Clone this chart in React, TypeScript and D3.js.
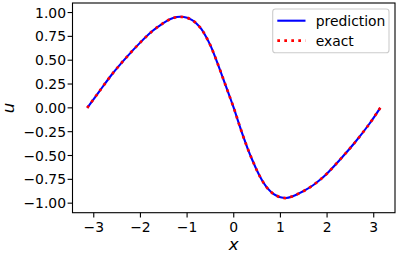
import * as d3 from "d3";

// values
const xs = [
  -3.14, -2.9, -2.6, -2.3, -2.0, -1.75, -1.6, -1.45, -1.3, -1.15, -1.0, -0.9,
  -0.8, -0.7, -0.6, -0.5, -0.4, -0.3, -0.2, -0.1, 0.0, 0.1, 0.2, 0.3, 0.4, 0.5,
  0.6, 0.7, 0.8, 0.9, 1.0, 1.12, 1.25, 1.4, 1.55, 1.7, 1.85, 2.0, 2.3, 2.6, 2.9,
  3.14,
];
const uExact = [
  0, 0.16, 0.358, 0.53, 0.687, 0.803, 0.858, 0.908, 0.942, 0.955, 0.945, 0.922,
  0.885, 0.83, 0.752, 0.655, 0.535, 0.405, 0.27, 0.135, 0, -0.15, -0.295,
  -0.43, -0.55, -0.66, -0.755, -0.83, -0.882, -0.917, -0.938, -0.946, -0.93,
  -0.897, -0.858, -0.812, -0.755, -0.688, -0.531, -0.361, -0.172, 0,
];
const uPred = uExact.slice();

const xTicks = [-3, -2, -1, 0, 1, 2, 3];
const yTicks = [-1, -0.75, -0.5, -0.25, 0, 0.25, 0.5, 0.75, 1];

const legendItems = ["prediction", "exact"];

const W = 399;
const H = 254;
const left = 72.5;
const right = 395;
const top = 3;
const bottom = 212.7;

const font = "DejaVu Sans, sans-serif";
const fmtMinus = (s: string) => s.replace("-", "\u2212");

export default function App() {
  const x = d3
    .scaleLinear()
    .domain([-Math.PI * 1.1, Math.PI * 1.1])
    .range([left, right]);
  const y = d3.scaleLinear().domain([-1.1, 1.1]).range([bottom, top]);

  const line = d3
    .line<number>()
    .x((_, i) => x(xs[i]))
    .y((d) => y(d))
    .curve(d3.curveCatmullRom.alpha(0.5));

  return (
    <svg
      width={W}
      height={H}
      style={{ position: "absolute", left: 0, top: 0, background: "#fff" }}
    >
      <path d={line(uPred) ?? ""} fill="none" stroke="#0000ff" strokeWidth={2.1} />
      <path
        d={line(uExact) ?? ""}
        fill="none"
        stroke="#ff0000"
        strokeWidth={2.7}
        strokeDasharray="2.7 4.3"
      />

      {/* frame */}
      <rect
        x={left}
        y={top}
        width={right - left}
        height={bottom - top}
        fill="none"
        stroke="#000"
        strokeWidth={1.1}
      />

      {/* x axis */}
      {xTicks.map((t) => (
        <g key={"x" + t}>
          <line x1={x(t)} x2={x(t)} y1={bottom} y2={bottom + 4.9} stroke="#000" strokeWidth={1.1} />
          <text
            x={x(t)}
            y={231.5}
            textAnchor="middle"
            fontFamily={font}
            fontSize={13.9}
          >
            {fmtMinus(d3.format("d")(t))}
          </text>
        </g>
      ))}
      <text x={x(0)} y={249.5} textAnchor="middle" fontFamily={font} fontStyle="italic" fontSize={16.7}>
        x
      </text>

      {/* y axis */}
      {yTicks.map((t) => (
        <g key={"y" + t}>
          <line x1={left - 4.9} x2={left} y1={y(t)} y2={y(t)} stroke="#000" strokeWidth={1.1} />
          <text
            x={66}
            y={y(t) + 5}
            textAnchor="end"
            fontFamily={font}
            fontSize={13.9}
          >
            {fmtMinus(d3.format(".2f")(t))}
          </text>
        </g>
      ))}
      <text
        transform={`translate(14,108) rotate(-90)`}
        textAnchor="middle"
        fontFamily={font}
        fontStyle="italic"
        fontSize={16.7}
      >
        u
      </text>

      {/* legend */}
      <rect
        x={272.7}
        y={9}
        width={116.3}
        height={43.7}
        rx={2.8}
        fill="#fff"
        fillOpacity={0.8}
        stroke="#cccccc"
        strokeWidth={1.1}
      />
      <line x1={277.3} x2={305.5} y1={20.7} y2={20.7} stroke="#0000ff" strokeWidth={2.1} />
      <line
        x1={277.3}
        x2={305.5}
        y1={40.7}
        y2={40.7}
        stroke="#ff0000"
        strokeWidth={2.7}
        strokeDasharray="2.7 4.3"
      />
      {legendItems.map((label, i) => (
        <text key={label} x={315.7} y={25.6 + i * 20} fontFamily={font} fontSize={13.9}>
          {label}
        </text>
      ))}
    </svg>
  );
}
